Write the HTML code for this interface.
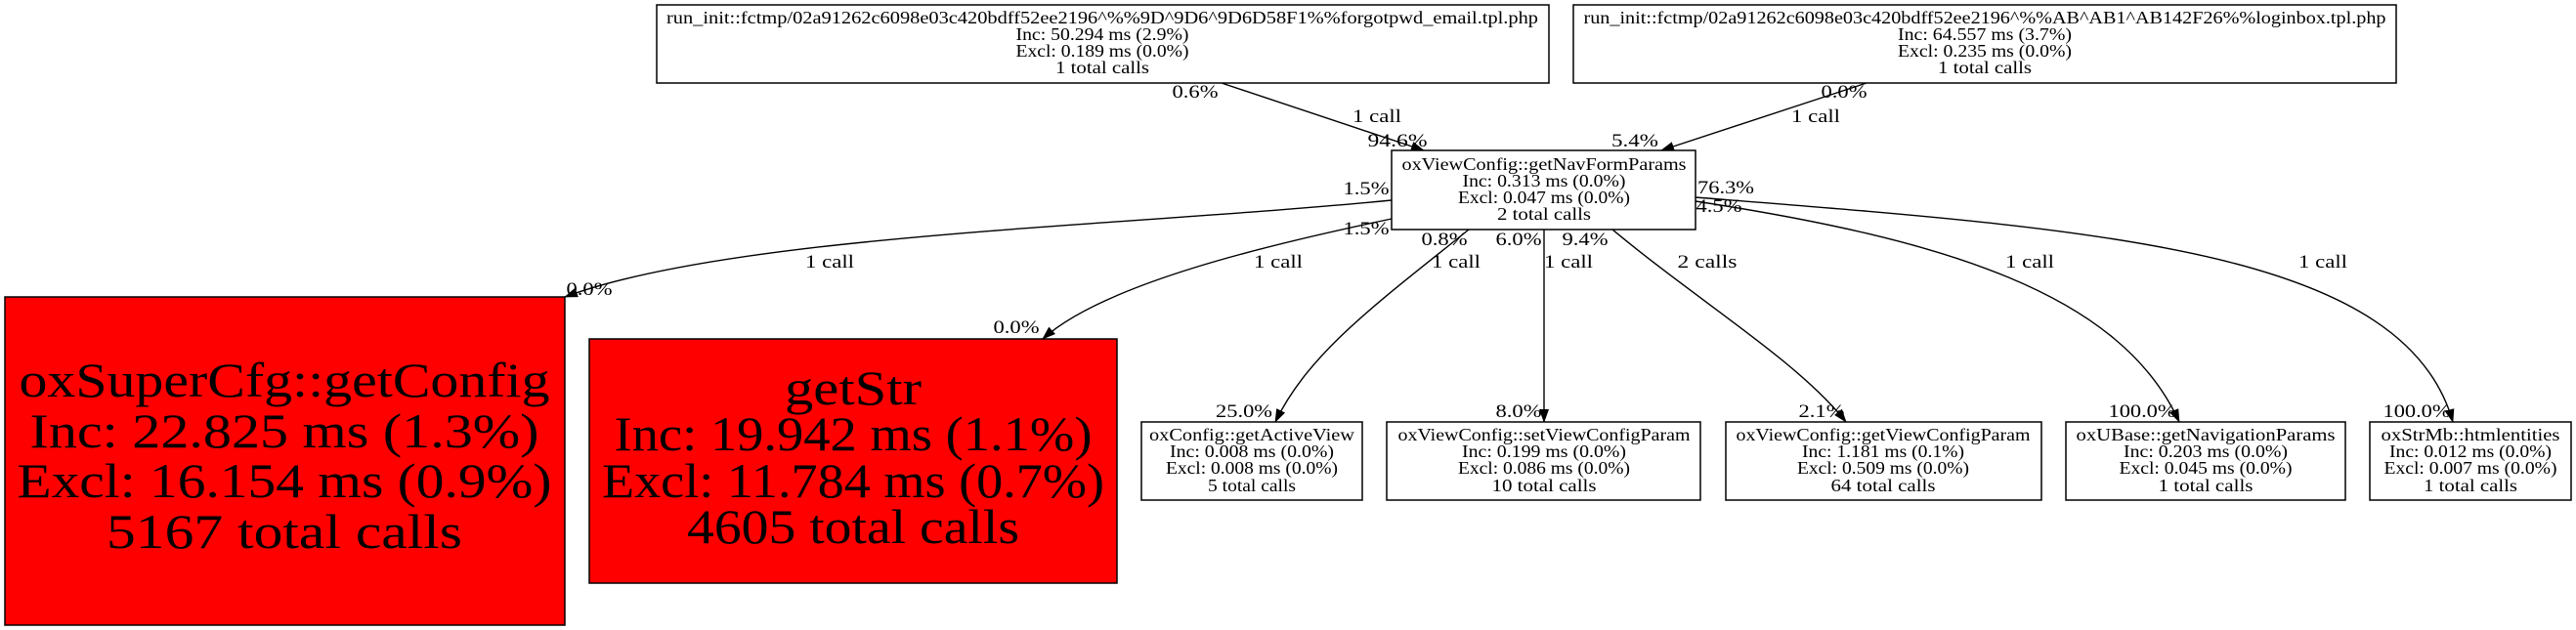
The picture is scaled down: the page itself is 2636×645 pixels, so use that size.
<!DOCTYPE html>
<html><head><meta charset="utf-8"><style>
html,body{margin:0;padding:0;background:#fff;}
svg{display:block;}
text{font-family:"Liberation Serif",serif;fill:#000;}
</style></head><body>
<svg width="2636" height="645" viewBox="0 0 2636 645" xmlns="http://www.w3.org/2000/svg">
<defs>
<marker id="a" markerWidth="14" markerHeight="10" refX="13" refY="5" orient="auto" markerUnits="userSpaceOnUse">
<path d="M0,0 L14,5 L0,10 z" fill="#000"/>
</marker>
</defs>
<g fill="none" stroke="#000" stroke-width="1.4">
<path d="M1250,85 L1457,154" marker-end="url(#a)"/>
<path d="M1910,85 L1700,154" marker-end="url(#a)"/>
<path d="M1424,205 C1150,232 750,240 578,304" marker-end="url(#a)"/>
<path d="M1424,224 C1300,250 1130,290 1067,347" marker-end="url(#a)"/>
<path d="M1503,235 C1410,310 1340,360 1305,432" marker-end="url(#a)"/>
<path d="M1580,235 L1580,432" marker-end="url(#a)"/>
<path d="M1650,235 C1740,310 1840,370 1889,432" marker-end="url(#a)"/>
<path d="M1735,206 C1990,245 2170,300 2230,432" marker-end="url(#a)"/>
<path d="M1735,202 C2150,235 2460,255 2510,432" marker-end="url(#a)"/>
</g>
<g stroke="#000" stroke-width="1.5">
<rect x="672" y="5" width="913" height="80" fill="#fff"/>
<rect x="1610" y="5" width="842" height="80" fill="#fff"/>
<rect x="1424" y="154" width="311" height="81" fill="#fff"/>
<rect x="5" y="304" width="573" height="336" fill="#ff0000"/>
<rect x="603" y="347" width="540" height="250" fill="#ff0000"/>
<rect x="1168" y="432" width="226" height="80" fill="#fff"/>
<rect x="1419" y="432" width="321" height="80" fill="#fff"/>
<rect x="1766" y="432" width="323" height="80" fill="#fff"/>
<rect x="2114" y="432" width="286" height="80" fill="#fff"/>
<rect x="2425" y="432" width="206" height="80" fill="#fff"/>
</g>
<g font-size="18" text-anchor="middle">
<text x="1128" y="24" textLength="892" lengthAdjust="spacingAndGlyphs">run_init::fctmp/02a91262c6098e03c420bdff52ee2196^%%9D^9D6^9D6D58F1%%forgotpwd_email.tpl.php</text>
<text x="1128" y="41" textLength="177" lengthAdjust="spacingAndGlyphs">Inc: 50.294 ms (2.9%)</text>
<text x="1128" y="58" textLength="177" lengthAdjust="spacingAndGlyphs">Excl: 0.189 ms (0.0%)</text>
<text x="1128" y="75" textLength="96" lengthAdjust="spacingAndGlyphs">1 total calls</text>

<text x="2031" y="24" textLength="821" lengthAdjust="spacingAndGlyphs">run_init::fctmp/02a91262c6098e03c420bdff52ee2196^%%AB^AB1^AB142F26%%loginbox.tpl.php</text>
<text x="2031" y="41" textLength="178" lengthAdjust="spacingAndGlyphs">Inc: 64.557 ms (3.7%)</text>
<text x="2031" y="58" textLength="178" lengthAdjust="spacingAndGlyphs">Excl: 0.235 ms (0.0%)</text>
<text x="2031" y="75" textLength="96" lengthAdjust="spacingAndGlyphs">1 total calls</text>

<text x="1580" y="174" textLength="291" lengthAdjust="spacingAndGlyphs">oxViewConfig::getNavFormParams</text>
<text x="1580" y="191" textLength="167" lengthAdjust="spacingAndGlyphs">Inc: 0.313 ms (0.0%)</text>
<text x="1580" y="208" textLength="176" lengthAdjust="spacingAndGlyphs">Excl: 0.047 ms (0.0%)</text>
<text x="1580" y="225" textLength="96" lengthAdjust="spacingAndGlyphs">2 total calls</text>

<text x="1281" y="451" textLength="210" lengthAdjust="spacingAndGlyphs">oxConfig::getActiveView</text>
<text x="1281" y="468" textLength="168" lengthAdjust="spacingAndGlyphs">Inc: 0.008 ms (0.0%)</text>
<text x="1281" y="485" textLength="176" lengthAdjust="spacingAndGlyphs">Excl: 0.008 ms (0.0%)</text>
<text x="1281" y="503" textLength="90" lengthAdjust="spacingAndGlyphs">5 total calls</text>

<text x="1580" y="451" textLength="299" lengthAdjust="spacingAndGlyphs">oxViewConfig::setViewConfigParam</text>
<text x="1580" y="468" textLength="168" lengthAdjust="spacingAndGlyphs">Inc: 0.199 ms (0.0%)</text>
<text x="1580" y="485" textLength="176" lengthAdjust="spacingAndGlyphs">Excl: 0.086 ms (0.0%)</text>
<text x="1580" y="503" textLength="107" lengthAdjust="spacingAndGlyphs">10 total calls</text>

<text x="1927" y="451" textLength="301" lengthAdjust="spacingAndGlyphs">oxViewConfig::getViewConfigParam</text>
<text x="1927" y="468" textLength="166" lengthAdjust="spacingAndGlyphs">Inc: 1.181 ms (0.1%)</text>
<text x="1927" y="485" textLength="176" lengthAdjust="spacingAndGlyphs">Excl: 0.509 ms (0.0%)</text>
<text x="1927" y="503" textLength="107" lengthAdjust="spacingAndGlyphs">64 total calls</text>

<text x="2257" y="451" textLength="265" lengthAdjust="spacingAndGlyphs">oxUBase::getNavigationParams</text>
<text x="2257" y="468" textLength="168" lengthAdjust="spacingAndGlyphs">Inc: 0.203 ms (0.0%)</text>
<text x="2257" y="485" textLength="177" lengthAdjust="spacingAndGlyphs">Excl: 0.045 ms (0.0%)</text>
<text x="2257" y="503" textLength="97" lengthAdjust="spacingAndGlyphs">1 total calls</text>

<text x="2528" y="451" textLength="183" lengthAdjust="spacingAndGlyphs">oxStrMb::htmlentities</text>
<text x="2528" y="468" textLength="166" lengthAdjust="spacingAndGlyphs">Inc: 0.012 ms (0.0%)</text>
<text x="2528" y="485" textLength="177" lengthAdjust="spacingAndGlyphs">Excl: 0.007 ms (0.0%)</text>
<text x="2528" y="503" textLength="96" lengthAdjust="spacingAndGlyphs">1 total calls</text>
</g>
<g font-size="50" text-anchor="middle">
<text x="291" y="406" textLength="543" lengthAdjust="spacingAndGlyphs">oxSuperCfg::getConfig</text>
<text x="291" y="458" textLength="521" lengthAdjust="spacingAndGlyphs">Inc: 22.825 ms (1.3%)</text>
<text x="291" y="509" textLength="547" lengthAdjust="spacingAndGlyphs">Excl: 16.154 ms (0.9%)</text>
<text x="291" y="561" textLength="364" lengthAdjust="spacingAndGlyphs">5167 total calls</text>
<text x="873" y="414" textLength="140" lengthAdjust="spacingAndGlyphs">getStr</text>
<text x="873" y="461" textLength="489" lengthAdjust="spacingAndGlyphs">Inc: 19.942 ms (1.1%)</text>
<text x="873" y="509" textLength="514" lengthAdjust="spacingAndGlyphs">Excl: 11.784 ms (0.7%)</text>
<text x="873" y="556" textLength="340" lengthAdjust="spacingAndGlyphs">4605 total calls</text>
</g>
<g font-size="19" text-anchor="middle">
<text x="1223" y="100" textLength="47" lengthAdjust="spacingAndGlyphs">0.6%</text>
<text x="1409" y="125" textLength="50" lengthAdjust="spacingAndGlyphs">1 call</text>
<text x="1430" y="150" textLength="61" lengthAdjust="spacingAndGlyphs">94.6%</text>
<text x="1887" y="100" textLength="47" lengthAdjust="spacingAndGlyphs">0.0%</text>
<text x="1858" y="125" textLength="50" lengthAdjust="spacingAndGlyphs">1 call</text>
<text x="1673" y="150" textLength="48" lengthAdjust="spacingAndGlyphs">5.4%</text>
<text x="1398" y="199" textLength="47" lengthAdjust="spacingAndGlyphs">1.5%</text>
<text x="1398" y="240" textLength="47" lengthAdjust="spacingAndGlyphs">1.5%</text>
<text x="1766" y="198" textLength="58" lengthAdjust="spacingAndGlyphs">76.3%</text>
<text x="1759" y="217" textLength="47" lengthAdjust="spacingAndGlyphs">4.5%</text>
<text x="1478" y="251" textLength="47" lengthAdjust="spacingAndGlyphs">0.8%</text>
<text x="1554" y="251" textLength="47" lengthAdjust="spacingAndGlyphs">6.0%</text>
<text x="1622" y="251" textLength="47" lengthAdjust="spacingAndGlyphs">9.4%</text>
<text x="849" y="274" textLength="50" lengthAdjust="spacingAndGlyphs">1 call</text>
<text x="1308" y="274" textLength="50" lengthAdjust="spacingAndGlyphs">1 call</text>
<text x="1490" y="274" textLength="50" lengthAdjust="spacingAndGlyphs">1 call</text>
<text x="1605" y="274" textLength="50" lengthAdjust="spacingAndGlyphs">1 call</text>
<text x="1747" y="274" textLength="61" lengthAdjust="spacingAndGlyphs">2 calls</text>
<text x="2077" y="274" textLength="50" lengthAdjust="spacingAndGlyphs">1 call</text>
<text x="2377" y="274" textLength="50" lengthAdjust="spacingAndGlyphs">1 call</text>
<text x="603" y="302" textLength="47" lengthAdjust="spacingAndGlyphs">0.0%</text>
<text x="1040" y="341" textLength="47" lengthAdjust="spacingAndGlyphs">0.0%</text>
<text x="1273" y="427" textLength="58" lengthAdjust="spacingAndGlyphs">25.0%</text>
<text x="1554" y="427" textLength="47" lengthAdjust="spacingAndGlyphs">8.0%</text>
<text x="1864" y="427" textLength="47" lengthAdjust="spacingAndGlyphs">2.1%</text>
<text x="2192" y="427" textLength="69" lengthAdjust="spacingAndGlyphs">100.0%</text>
<text x="2473" y="427" textLength="69" lengthAdjust="spacingAndGlyphs">100.0%</text>
</g>
</svg>
</body></html>
